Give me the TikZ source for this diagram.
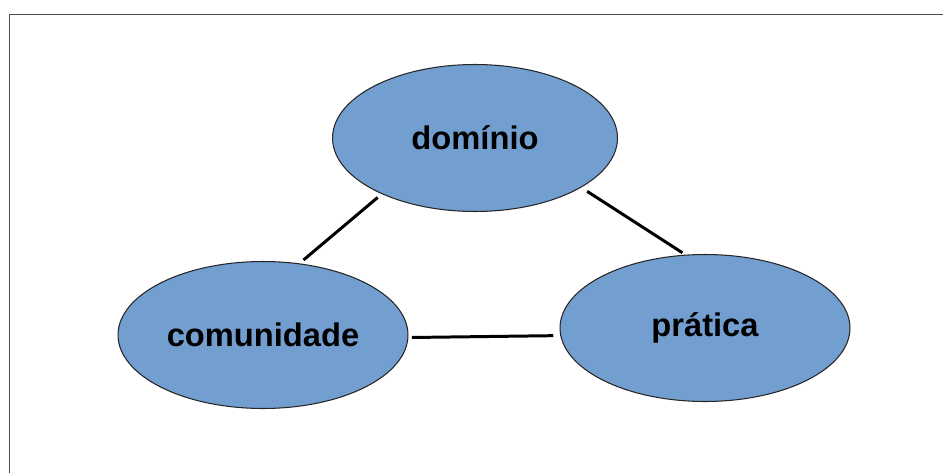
\documentclass[tikz,border=0pt]{standalone}
\usepackage{fontspec}
\setmainfont{Liberation Sans}
\usetikzlibrary{shapes.geometric}
\definecolor{bolha}{RGB}{114,159,207}
\tikzset{
	bolha/.style={ellipse, draw=black!85, line width=0.6pt, fill=bolha, minimum width=5.8cm, minimum height=2.94cm, inner sep=0pt, font=\bfseries\fontsize{18.6}{20}\selectfont},
	liga/.style={line width=1.7pt, shorten <=3pt, shorten >=3pt}
}
\begin{document}
\begin{tikzpicture}[x=0.02cm,y=-0.02cm]
		\useasboundingbox (0,0) rectangle (943,473);
		\draw[line width=1pt, color=black!70] (9.5,473) -- (9.5,14.5) -- (943,14.5);
		
		\node[bolha, minimum width=5.7cm] (dom) at (475,138) {domínio};
		\node[bolha] (com) at (263,335) {comunidade};
		\node[bolha] (pra) at (705,328) {prática};
		
		\draw[liga] (dom.211) -- (com.63);
		\draw[liga, shorten <=4pt, shorten >=2pt] (dom.-25) -- (pra.105);
		\draw[liga, shorten <=2pt, shorten >=4pt] (com.-1) -- (pra.183);
		\end{tikzpicture}
\end{document}
